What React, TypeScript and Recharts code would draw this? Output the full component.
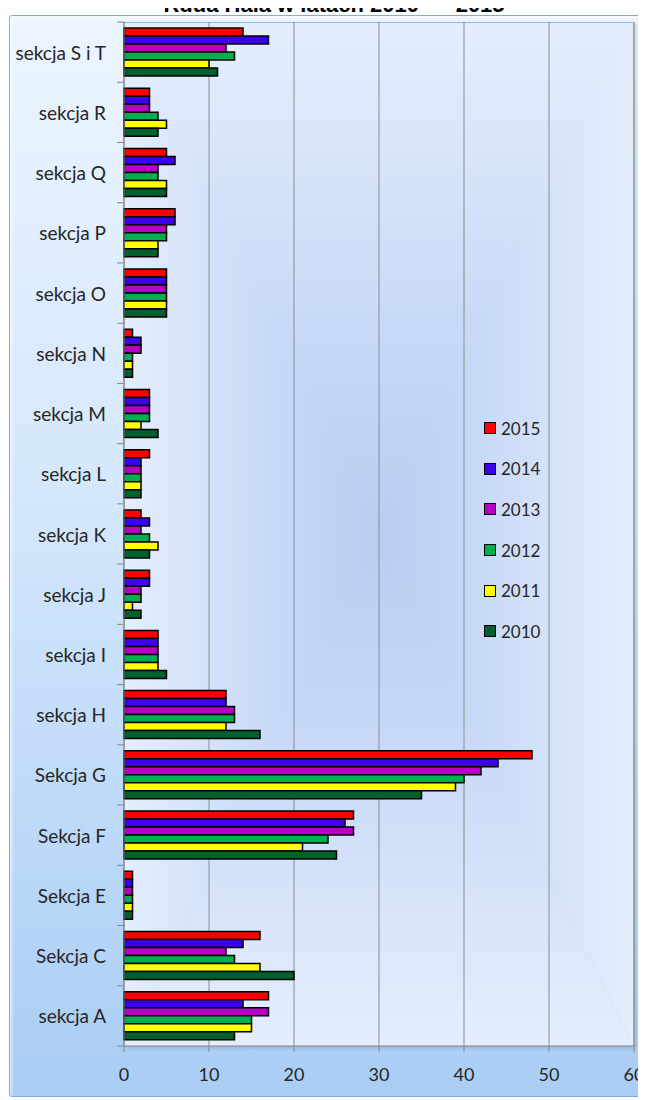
import { BarChart, Bar, XAxis, YAxis, CartesianGrid, Legend } from 'recharts';

const categories = [
  'sekcja S i T',
  'sekcja R',
  'sekcja Q',
  'sekcja P',
  'sekcja O',
  'sekcja N',
  'sekcja M',
  'sekcja L',
  'sekcja K',
  'sekcja J',
  'sekcja I',
  'sekcja H',
  'Sekcja G',
  'Sekcja F',
  'Sekcja E',
  'Sekcja C',
  'sekcja A',
];

const v2015 = [14, 3, 5, 6, 5, 1, 3, 3, 2, 3, 4, 12, 48, 27, 1, 16, 17];
const v2014 = [17, 3, 6, 6, 5, 2, 3, 2, 3, 3, 4, 12, 44, 26, 1, 14, 14];
const v2013 = [12, 3, 4, 5, 5, 2, 3, 2, 2, 2, 4, 13, 42, 27, 1, 12, 17];
const v2012 = [13, 4, 4, 5, 5, 1, 3, 2, 3, 2, 4, 13, 40, 24, 1, 13, 15];
const v2011 = [10, 5, 5, 4, 5, 1, 2, 2, 4, 1, 4, 12, 39, 21, 1, 16, 15];
const v2010 = [11, 4, 5, 4, 5, 1, 4, 2, 3, 2, 5, 16, 35, 25, 1, 20, 13];

const years = ['2015', '2014', '2013', '2012', '2011', '2010'];
const colors = ['#ff0000', '#3c00ee', '#b800c4', '#00b050', '#ffff00', '#00602e'];
const xTicks = [0, 10, 20, 30, 40, 50, 60];

const data = categories.map((name, i) => ({
  name,
  '2015': v2015[i],
  '2014': v2014[i],
  '2013': v2013[i],
  '2012': v2012[i],
  '2011': v2011[i],
  '2010': v2010[i],
}));

// plot area inside the chart svg
const PLOT_LEFT = 116;
const PLOT_TOP = 14;
const PLOT_W = 510;
const PLOT_H = 1024;
const BAND = PLOT_H / categories.length;

const stops = '#e4eefc 0%, #c6d8f7 32%, #abc1ea 70%, #93abd9 100%';

function PlotBackground() {
  const base = {
    position: 'absolute' as const,
    left: 0,
    top: 0,
    width: '100%',
    height: '100%',
  };
  return (
    <div
      style={{
        position: 'absolute',
        left: PLOT_LEFT,
        top: PLOT_TOP,
        width: PLOT_W,
        height: PLOT_H,
        borderTop: '1px solid #8fbbe8',
        borderRight: '1px solid #8fbbe8',
        boxShadow: '2px 2px 3px rgba(90,130,190,0.35)',
        boxSizing: 'border-box',
        overflow: 'hidden',
      }}
    >
      <div style={{ ...base, background: `linear-gradient(to bottom, ${stops})`, clipPath: 'polygon(0 0, 100% 0, 50% 50%)' }} />
      <div style={{ ...base, background: `linear-gradient(to top, ${stops})`, clipPath: 'polygon(0 100%, 100% 100%, 50% 50%)' }} />
      <div style={{ ...base, background: `linear-gradient(to right, ${stops})`, clipPath: 'polygon(0 0, 0 100%, 50% 50%)' }} />
      <div style={{ ...base, background: `linear-gradient(to left, ${stops})`, clipPath: 'polygon(100% 0, 100% 100%, 50% 50%)' }} />
    </div>
  );
}

function CategoryTick(props: any) {
  const { x, y, payload, index } = props;
  const last = index === categories.length - 1;
  return (
    <g>
      <text
        x={x - 18}
        y={y}
        textAnchor="end"
        dominantBaseline="central"
        fontFamily="Lato, sans-serif"
        fontSize={19}
        fill="#262626"
      >
        {payload.value}
      </text>
      <line x1={x - 7} x2={x} y1={y - BAND / 2} y2={y - BAND / 2} stroke="#868686" />
      {last && <line x1={x - 7} x2={x} y1={y + BAND / 2} y2={y + BAND / 2} stroke="#868686" />}
    </g>
  );
}

function LegendBox({ payload }: any) {
  const items = [...(payload || [])].sort(
    (a: any, b: any) => years.indexOf(String(a.value)) - years.indexOf(String(b.value))
  );
  return (
    <div>
      {items.map((p: any) => (
        <div
          key={p.value}
          style={{ display: 'flex', alignItems: 'center', height: 40.6 }}
        >
          <span
            style={{
              display: 'inline-block',
              width: 10,
              height: 10,
              background: p.color,
              border: '1.5px solid #000',
            }}
          />
          <span
            style={{
              marginLeft: 5,
              fontFamily: 'Lato, sans-serif',
              fontSize: 17,
              color: '#262626',
            }}
          >
            {p.value}
          </span>
        </div>
      ))}
    </div>
  );
}

export default function App() {
  return (
    <div style={{ position: 'relative', width: 638, height: 1092 }}>
      <div
        style={{
          position: 'absolute',
          left: 326,
          top: -14,
          transform: 'translateX(-50%)',
          whiteSpace: 'pre',
          fontFamily: '"Liberation Sans", Arial, sans-serif',
          fontWeight: 'bold',
          fontSize: 22,
          lineHeight: '22px',
          color: '#000',
        }}
      >
        {'Ruda Hala w latach 2010  –  2015'}
      </div>
      <div
        style={{
          position: 'absolute',
          left: 1,
          top: 7,
          width: 637,
          height: 1082,
          boxSizing: 'border-box',
          border: '1.5px solid #7aaee2',
          borderRadius: 3,
          background: 'linear-gradient(to bottom, #ecf5ff 0%, #d4e7fc 45%, #b9d7f8 80%, #aacdf4 100%)',
          boxShadow: 'inset 2px 2px 3px rgba(255,255,255,0.6)',
        }}
      />
      <PlotBackground />
      <div style={{ position: 'absolute', left: 0, top: 0 }}>
        <BarChart
          width={638}
          height={1092}
          data={data}
          layout="vertical"
          margin={{ top: PLOT_TOP, right: 638 - PLOT_LEFT - PLOT_W, left: 0, bottom: 14 }}
          barCategoryGap="10%"
          barGap={0}
        >
          <CartesianGrid horizontal={false} stroke="#8c8c8c" />
          <XAxis
            type="number"
            domain={[0, 60]}
            ticks={xTicks}
            height={40}
            tickSize={6}
            tickMargin={16}
            stroke="#868686"
            tick={{ fill: '#262626', fontFamily: 'Lato, sans-serif', fontSize: 18 }}
          />
          <YAxis
            type="category"
            dataKey="name"
            width={PLOT_LEFT}
            tickSize={0}
            tickMargin={0}
            stroke="#868686"
            tick={<CategoryTick />}
            interval={0}
          />
          <Legend
            layout="vertical"
            align="center"
            verticalAlign="middle"
            content={<LegendBox />}
            wrapperStyle={{ left: 476, top: 400, width: 80 }}
          />
          {years.map((y, i) => (
            <Bar
              key={y}
              dataKey={y}
              name={y}
              fill={colors[i]}
              stroke="#000"
              strokeWidth={1.5}
              isAnimationActive={false}
            />
          ))}
        </BarChart>
      </div>
    </div>
  );
}
